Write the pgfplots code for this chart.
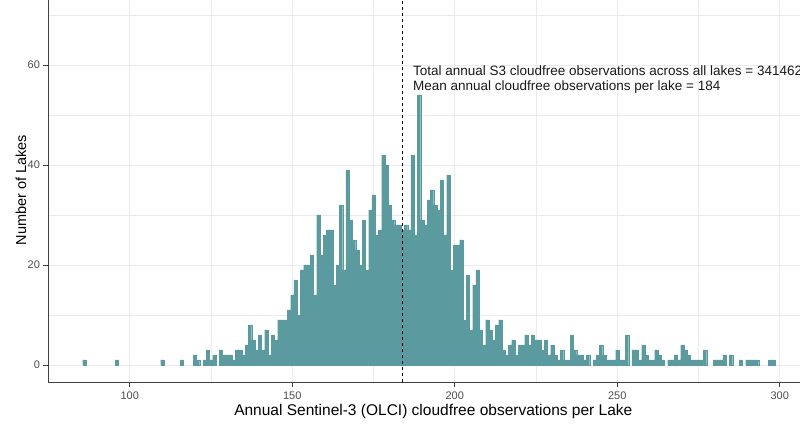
\documentclass[border=0pt]{standalone}
\usepackage{fontspec}
\setmainfont{Liberation Sans}
\usepackage{pgfplots}
\usepackage{pgfplotstable}
\pgfplotsset{compat=1.18}
\definecolor{barteal}{HTML}{5B9A9E}
\definecolor{gridgray}{HTML}{EBEBEB}
\definecolor{tickgray}{HTML}{4D4D4D}
\pgfplotstableread{
v h
86 1
96 1
110 1
116 1
120 2
121 1
123 1
124 3
125 1
126 2
128 3
129 2
130 2
131 2
132 1
133 3
134 3
135 2
136 4
137 8
138 5
139 3
140 6
141 3
142 7
143 2
144 6
145 5
146 9
147 9
148 9
149 11
150 14
151 17
152 10
153 19
154 20
155 20
156 22
157 14
158 30
159 22
160 26
161 27
162 27
163 16
164 20
165 32
166 19
167 39
168 29
169 25
170 23
171 20
172 29
173 19
174 31
175 34
176 26
177 27
178 42
179 40
180 32
181 29
182 28
183 28
184 27
185 28
186 27
187 42
188 26
189 54
190 29
191 28
192 33
193 35
194 32
195 31
196 37
197 26
198 38
199 19
200 24
201 24
202 25
203 9
204 18
205 7
206 16
207 19
208 7
209 4
210 9
211 7
212 5
213 8
214 9
215 3
216 2
217 4
218 5
219 2
220 4
221 4
222 6
223 4
224 6
225 5
226 5
227 3
228 5
229 2
230 4
231 2
232 1
233 3
234 1
235 1
236 6
237 3
238 2
239 2
240 1
241 2
243 1
244 2
245 4
246 2
247 1
248 1
249 1
250 3
251 1
252 1
253 6
255 3
256 3
257 1
258 4
259 2
260 1
261 1
262 3
263 2
264 1
266 1
267 1
268 2
269 1
270 4
271 3
272 2
273 1
274 1
275 1
276 1
277 3
280 1
281 1
282 1
283 2
285 2
288 1
290 1
291 1
292 1
293 1
297 1
298 1
}\histdata
\begin{document}
\begin{tikzpicture}
\path[use as bounding box, clip] (-48pt,-42.5pt) rectangle (752pt,382.5pt);
\fill[white] (-48pt,-42.5pt) rectangle (752pt,382.5pt);
\begin{axis}[
  at={(0pt,0pt)}, anchor=south west,
  scale only axis, width=761.5pt, height=385pt,
  xmin=74.85, xmax=309.15, ymin=-3.5, ymax=73.5,
  axis line style={draw=black!75, line width=0.8pt},
  xtick={100,150,200,250,300},
  ytick={0,20,40,60},
  minor xtick={125,175,225,275},
  minor ytick={10,30,50,70},
  grid=both,
  major grid style={draw=gridgray, line width=0.9pt},
  minor grid style={draw=gridgray, line width=0.5pt},
  tick align=outside,
  major tick length=4.5pt,
  minor tick length=0pt,
  major tick style={draw=black!75, line width=0.7pt},
  xtick pos=bottom, ytick pos=left,
  /pgf/number format/assume math mode=true,
  ticklabel style={font=\fontsize{11}{13}\selectfont, text=tickgray},
  xticklabel style={yshift=-1.5pt},
  xlabel={Annual Sentinel-3 (OLCI) cloudfree observations per Lake},
  ylabel={Number of Lakes},
  xlabel style={font=\fontsize{15.5}{18}\selectfont, at={(axis description cs:0.506,0)}, anchor=center, yshift=-28.5pt},
  ylabel style={font=\fontsize{14.5}{17}\selectfont, at={(axis description cs:-0.0355,0.5)}, anchor=center},
  clip=true,
]
\addplot[ybar, bar width=1, bar shift=0pt, fill=barteal, draw=barteal, line width=0.15pt] table[x=v, y=h] {\histdata};
\addplot[black, dashed, line width=0.8pt, dash pattern=on 3.5pt off 2.5pt] coordinates {(184,-3.5) (184,73.5)};
\node[anchor=north west, align=left, inner sep=0pt, font=\fontsize{13.5}{15}\selectfont, text=black!90] at (axis cs:187.1,59.8)
  {Total annual S3 cloudfree observations across all lakes = 341462\\Mean annual cloudfree observations per lake = 184};
\end{axis}
\end{tikzpicture}
\end{document}
